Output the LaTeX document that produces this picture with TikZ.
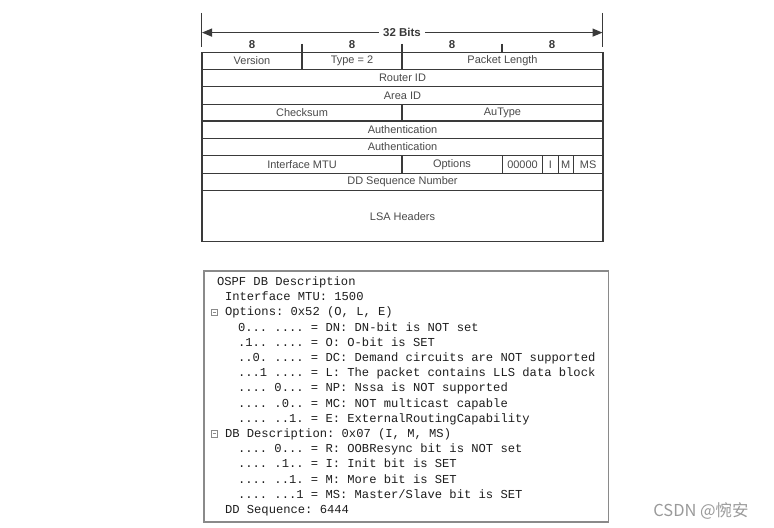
\documentclass[tikz,border=0pt]{standalone}
\usepackage{fontspec}
\setmainfont{Liberation Sans}
\newfontfamily\monof{Liberation Mono}
\newfontfamily\cjkf{Noto Sans CJK SC}
\usetikzlibrary{arrows.meta}
\definecolor{tline}{HTML}{3A3A3A}
\definecolor{ttext}{HTML}{4A4A4A}
\definecolor{boxline}{HTML}{8A8A8A}
\definecolor{mtext}{HTML}{1E1E1E}
\definecolor{wm}{HTML}{9A9A9A}
\tikzset{
  tcell/.style={font=\fontsize{11}{13}\selectfont, text=ttext, inner sep=0pt, anchor=center},
  tbold/.style={font=\fontsize{11.5}{13}\selectfont\bfseries, text=tline, inner sep=0pt},
  tgrid/.style={draw=tline, line width=1.2bp},
  mline/.style={font=\monof\fontsize{12.2}{14}\selectfont\frenchspacing, text=mtext, inner sep=0pt, anchor=base west},
  togglebox/.style={draw=boxline, line width=0.7bp},
}
\begin{document}
\frenchspacing
\begin{tikzpicture}[x=1bp,y=-1bp]
\useasboundingbox (0,0) rectangle (774,528);
\fill[white] (0,0) rectangle (774,528);

% ---- bit ruler ----
\coordinate (rl) at (202,32.6);
\coordinate (rr) at (602.5,32.6);
\draw[tgrid] (201.5,13) -- (201.5,47.5);
\draw[tgrid] (602.5,13) -- (602.5,47.5);
\draw[tgrid, {Triangle[length=10bp,width=8bp]}-{Triangle[length=10bp,width=8bp]}] (rl) -- (rr);
\node[tbold, fill=white, inner xsep=4bp, inner ysep=2bp] (bits) at (402,32.6) {32 Bits};
\node[tbold] (b1) at (252,44.3) {8};
\node[tbold] (b2) at (352,44.3) {8};
\node[tbold] (b3) at (452,44.3) {8};
\node[tbold] (b4) at (552,44.3) {8};
\draw[tgrid] (302,44) -- (302,52.3);
\draw[tgrid] (402,44) -- (402,52.3);
\draw[tgrid] (502,44) -- (502,52.3);

% ---- packet table ----
\draw[tgrid] (202,52.3) rectangle (603,241.7);
\foreach \yy in {69.3,86.7,104.3,121,138.3,155.7,173.3,190.7}
  \draw[tgrid] (202,\yy) -- (603,\yy);
% row 1
\draw[tgrid] (302,52.3) -- (302,69.3);
\draw[tgrid] (402,52.3) -- (402,69.3);
\node[tcell] (ver) at (252,60.8) {Version};
\node[tcell] (typ) at (352,60.8) {Type = 2};
\node[tcell] (plen) at (502.5,60.8) {Packet Length};
% row 2,3
\node[tcell] (rid) at (402.5,78) {Router ID};
\node[tcell] (aid) at (402.5,95.5) {Area ID};
% row 4
\draw[tgrid] (402,104.3) -- (402,121);
\node[tcell] (chk) at (302,112.6) {Checksum};
\node[tcell] (aut) at (502.5,112.6) {AuType};
% row 5,6
\node[tcell] (auth1) at (402.5,129.7) {Authentication};
\node[tcell] (auth2) at (402.5,147) {Authentication};
% row 7
\foreach \xx in {402,502.3,542.7,558.3,573.3}
  \draw[tgrid] (\xx,155.7) -- (\xx,173.3);
\node[tcell] (mtu) at (302,164.5) {Interface MTU};
\node[tcell] (opt) at (452,164.5) {Options};
\node[tcell] (zer) at (522.5,164.5) {00000};
\node[tcell] (ib) at (550.5,164.5) {I};
\node[tcell] (mb) at (565.8,164.5) {M};
\node[tcell] (msb) at (588.2,164.5) {MS};
% row 8,9
\node[tcell] (dds) at (402.5,182) {DD Sequence Number};
\node[tcell] (lsa) at (402.5,216.2) {LSA Headers};

% ---- capture box ----
\draw[draw=boxline, line width=1.5bp] (204,271) rectangle (608.3,522);
\def\bl#1{285.5+15.2*#1}
\node[mline] (l0) at (216.8,{\bl{0}}) {OSPF DB Description};
\node[mline] (l1) at (224.8,{\bl{1}}) {Interface MTU: 1500};
\node[mline] (l2) at (224.8,{\bl{2}}) {Options: 0x52 (O, L, E)};
\node[mline] (l3) at (237.8,{\bl{3}}) {0... .... = DN: DN-bit is NOT set};
\node[mline] (l4) at (237.8,{\bl{4}}) {.1.. .... = O: O-bit is SET};
\node[mline] (l5) at (237.8,{\bl{5}}) {..0. .... = DC: Demand circuits are NOT supported};
\node[mline] (l6) at (237.8,{\bl{6}}) {...1 .... = L: The packet contains LLS data block};
\node[mline] (l7) at (237.8,{\bl{7}}) {.... 0... = NP: Nssa is NOT supported};
\node[mline] (l8) at (237.8,{\bl{8}}) {.... .0.. = MC: NOT multicast capable};
\node[mline] (l9) at (237.8,{\bl{9}}) {.... ..1. = E: ExternalRoutingCapability};
\node[mline] (l10) at (224.8,{\bl{10}}) {DB Description: 0x07 (I, M, MS)};
\node[mline] (l11) at (237.8,{\bl{11}}) {.... 0... = R: OOBResync bit is NOT set};
\node[mline] (l12) at (237.8,{\bl{12}}) {.... .1.. = I: Init bit is SET};
\node[mline] (l13) at (237.8,{\bl{13}}) {.... ..1. = M: More bit is SET};
\node[mline] (l14) at (237.8,{\bl{14}}) {.... ...1 = MS: Master/Slave bit is SET};
\node[mline] (l15) at (224.8,{\bl{15}}) {DD Sequence: 6444};
% collapse toggles
\foreach \i in {2,10} {
  \draw[togglebox] (211.3,{\bl{\i}-7}) rectangle (217.7,{\bl{\i}-0.6});
  \draw[togglebox] (212.6,{\bl{\i}-3.8}) -- (216.4,{\bl{\i}-3.8});
}

% ---- watermark ----
\node[font=\cjkf\fontsize{16.5}{19}\selectfont, text=wm, inner sep=0pt] (wmk) at (701,510.5) {CSDN @惋安};
\end{tikzpicture}
\end{document}
